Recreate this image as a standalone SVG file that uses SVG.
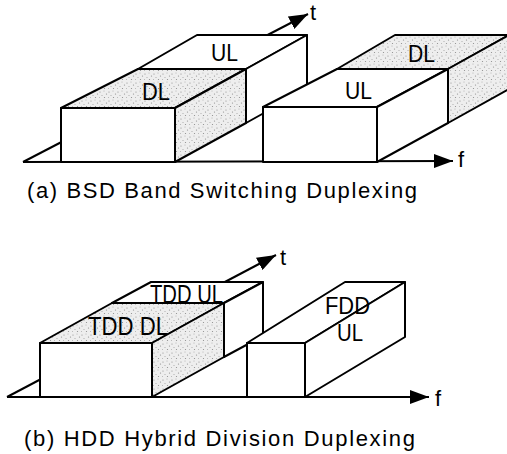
<svg xmlns="http://www.w3.org/2000/svg" width="507" height="454" viewBox="0 0 507 454">
  <defs>
    <pattern id="stip" width="9" height="9" patternUnits="userSpaceOnUse">
      <rect width="9" height="9" fill="#eeeeee"/>
      <circle cx="1" cy="2" r="0.6" fill="#8a8a8a"/>
      <circle cx="5" cy="1" r="0.5" fill="#a5a5a5"/>
      <circle cx="7.5" cy="4" r="0.6" fill="#8a8a8a"/>
      <circle cx="3" cy="5.5" r="0.5" fill="#999"/>
      <circle cx="0.5" cy="7.5" r="0.5" fill="#aaa"/>
      <circle cx="5.5" cy="7.5" r="0.6" fill="#8a8a8a"/>
    </pattern>
    <marker id="ah" viewBox="0 0 19 14" refX="19" refY="7" markerWidth="19" markerHeight="14" markerUnits="userSpaceOnUse" orient="auto">
      <path d="M0,0 L19,7 L0,14 z" fill="#000"/>
    </marker>
  </defs>
  <style>
    .ln { fill: none; stroke: #000; stroke-width: 2; }
    .w { fill: #fff; stroke: #000; stroke-width: 2; stroke-linejoin: round; }
    .s { fill: url(#stip); stroke: #000; stroke-width: 2; stroke-linejoin: round; }
    .lab { font-family: "Liberation Sans", Arial, sans-serif; font-size: 24px; fill: #000; }
    .labb { font-family: "Liberation Sans", Arial, sans-serif; font-size: 26px; fill: #000; }
    .ax { font-family: "Liberation Sans", Arial, sans-serif; font-size: 22px; fill: #000; }
    .cap { font-family: "Liberation Sans", Arial, sans-serif; font-size: 22px; fill: #000; }
  </style>

  <g id="connectors">
    <line class="ln" x1="23" y1="162" x2="308" y2="14" marker-end="url(#ah)"/>
    <line class="ln" x1="23" y1="162" x2="453" y2="161" marker-end="url(#ah)"/>
    <line class="ln" x1="7" y1="397" x2="276" y2="255" marker-end="url(#ah)"/>
    <line class="ln" x1="7" y1="397" x2="429" y2="397" marker-end="url(#ah)"/>
  </g>

  <g id="axis-labels">
    <text class="ax" x="310" y="20">t</text>
    <text class="ax" x="458" y="167">f</text>
    <text class="ax" x="280" y="265">t</text>
    <text class="ax" x="435" y="406">f</text>
  </g>

  <g id="bsd-box-1">
    <rect class="w" x="61" y="108" width="114" height="54"/>
    <polygon class="s" points="61,108 175,108 246,69 138,69"/>
    <polygon class="w" points="138,69 246,69 307,35 197,35"/>
    <polygon class="s" points="175,108 246,69 246,123 175,162"/>
    <polygon class="w" points="246,69 307,35 307,89 246,123"/>
    <text class="lab" x="211" y="61" textLength="27" lengthAdjust="spacingAndGlyphs">UL</text>
    <text class="lab" x="142" y="100" textLength="28" lengthAdjust="spacingAndGlyphs">DL</text>
  </g>

  <g id="bsd-box-2">
    <rect class="w" x="263" y="107" width="114" height="55"/>
    <polygon class="w" points="263,107 377,107 448,69 337,69"/>
    <polygon class="s" points="337,69 448,69 509,35 395,35"/>
    <polygon class="w" points="377,107 448,69 448,123 377,162"/>
    <polygon class="s" points="448,69 509,35 509,89 448,123"/>
    <text class="lab" x="345" y="99" textLength="27" lengthAdjust="spacingAndGlyphs">UL</text>
    <text class="lab" x="408" y="62" textLength="27" lengthAdjust="spacingAndGlyphs">DL</text>
  </g>

  <g id="hdd-tdd-box">
    <rect class="w" x="40" y="343" width="112" height="54"/>
    <polygon class="s" points="40,343 152,343 224,303 112,303"/>
    <polygon class="w" points="112,303 224,303 263,282 151,282"/>
    <polygon class="s" points="152,343 224,303 224,357 152,397"/>
    <polygon class="w" points="224,303 263,282 263,336 224,357"/>
    <text class="labb" x="150" y="303" textLength="73" lengthAdjust="spacingAndGlyphs">TDD UL</text>
    <text class="labb" x="88" y="335" textLength="80" lengthAdjust="spacingAndGlyphs">TDD DL</text>
  </g>

  <g id="hdd-fdd-box">
    <rect class="w" x="247" y="343" width="58" height="54"/>
    <polygon class="w" points="247,343 305,343 405,282 345,282"/>
    <polygon class="w" points="305,343 405,282 405,337 305,397"/>
    <text class="lab" x="325" y="314" textLength="45" lengthAdjust="spacingAndGlyphs">FDD</text>
    <text class="lab" x="337" y="341" textLength="26" lengthAdjust="spacingAndGlyphs">UL</text>
  </g>

  <g id="captions">
    <text class="cap" x="27" y="198" textLength="390">(a) BSD Band Switching Duplexing</text>
    <text class="cap" x="24" y="446" textLength="391">(b) HDD Hybrid Division Duplexing</text>
  </g>
</svg>
